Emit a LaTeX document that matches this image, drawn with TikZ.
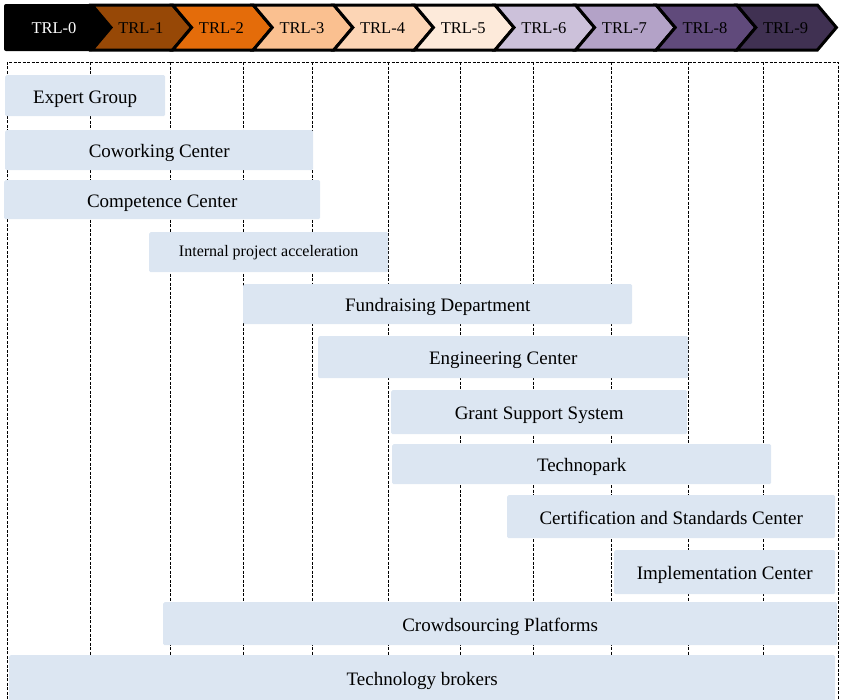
\documentclass[tikz,border=0pt]{standalone}
\usepackage{fontspec}
\setmainfont{Liberation Serif}
\definecolor{barfill}{HTML}{DCE6F2}
\definecolor{c1}{HTML}{974806}
\definecolor{c2}{HTML}{E46C0A}
\definecolor{c3}{HTML}{FAC090}
\definecolor{c4}{HTML}{FCD5B5}
\definecolor{c5}{HTML}{FDEADA}
\definecolor{c6}{HTML}{CCC1DA}
\definecolor{c7}{HTML}{B3A2C7}
\definecolor{c8}{HTML}{604A7B}
\definecolor{c9}{HTML}{403152}
\tikzset{
  bar/.style={fill=barfill, draw=none, rounded corners=1.5pt, inner sep=0pt, text height=16.5pt, text depth=1.5pt, font=\fontsize{19}{21}\selectfont},
  smallbar/.style={bar, text height=12pt, text depth=2.6pt, font=\fontsize{16}{18}\selectfont},
  chev/.style={draw=black, line width=3pt, line join=miter},
  grid/.style={draw=black, line width=0.8pt, dash pattern=on 3pt off 1.5pt},
  hdr/.style={font=\fontsize{16.5}{18}\selectfont, inner sep=0pt}
}
\newcommand{\mybar}[7][bar]{%
  \node[#1, minimum width=#4pt-#3pt, minimum height=#6pt-#5pt, anchor=north west] (#2) at (#3,#5) {#7};}
\begin{document}
\begin{tikzpicture}[x=1pt,y=-1pt]
\useasboundingbox (0,0) rectangle (845,699);
% grid
\draw[grid] (7,699) -- (7,62) -- (838,62) -- (838,699);
\foreach \gx in {90,170,243,312,388,460,533,611,688,763}
  \draw[grid] (\gx,62) -- (\gx,699);
% header
\fill[black, rounded corners=2pt] (4,4) -- (94,4) -- (113,27.5) -- (94,51) -- (4,51) -- cycle;
\node[hdr, text=white] (t0) at (54,28) {TRL-0};
\foreach \i/\col in {1/c1,2/c2,3/c3,4/c4,5/c5,6/c6,7/c7,8/c8,9/c9}{
  \pgfmathsetmacro{\L}{92+80.6*(\i-1)}
  \pgfmathsetmacro{\R}{\L+80.6}
  \draw[chev, fill=\col] (\L,5) -- (\R,5) -- (\R+19,27.5) -- (\R,50) -- (\L,50) -- (\L+19,27.5) -- cycle;
  \node[hdr] (t\i) at (\L/2+\R/2+8.5,28) {TRL-\i};
}
% bars
\mybar{b1}{5}{165}{75}{116}{Expert Group}
\mybar{b2}{5}{313}{130}{170}{Coworking Center}
\mybar{b3}{4}{320}{180}{219}{Competence Center}
\mybar[smallbar]{b4}{149}{388}{232}{272}{Internal project acceleration}
\mybar{b5}{243}{632}{284}{324}{Fundraising Department}
\mybar{b6}{318}{688}{336}{378}{Engineering Center}
\mybar{b7}{391}{687}{390}{434}{Grant Support System}
\mybar{b8}{392}{771}{444}{484}{Technopark}
\mybar{b9}{507}{835}{495}{538}{Certification and Standards Center}
\mybar{b10}{614}{835}{550}{594}{Implementation Center}
\mybar{b11}{163}{837}{602}{645}{Crowdsourcing Platforms}
\mybar{b12}{9}{835}{655}{701}{Technology brokers}
\end{tikzpicture}
\end{document}
